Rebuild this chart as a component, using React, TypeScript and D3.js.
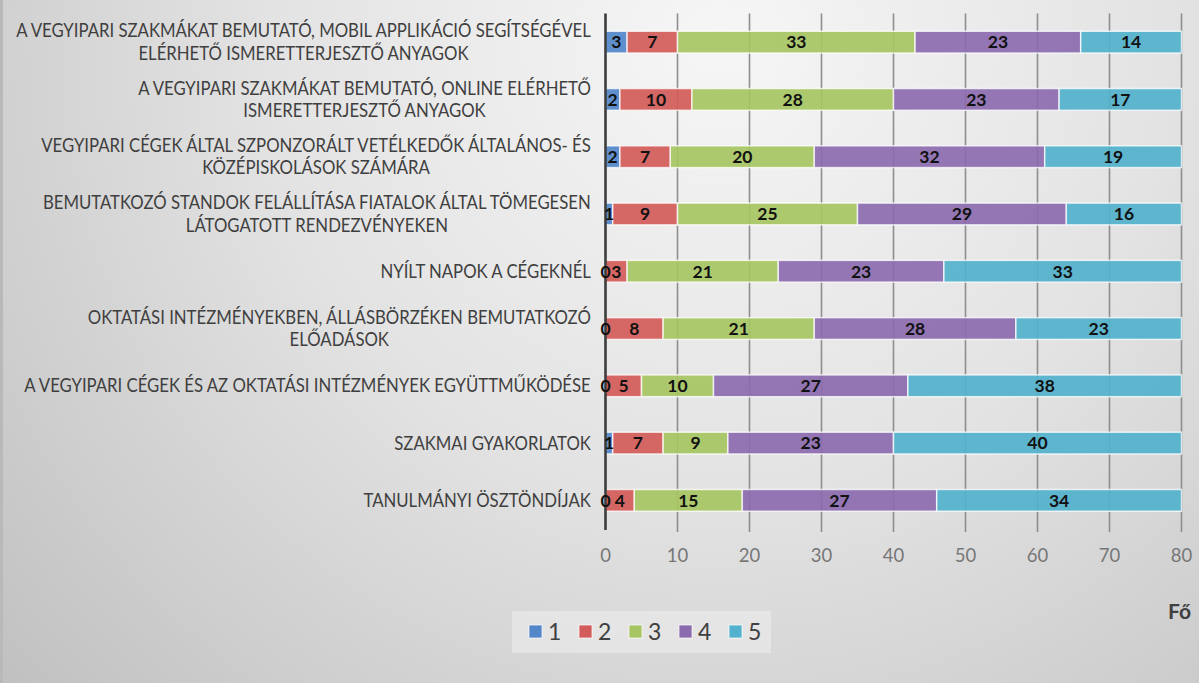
import React, { useEffect, useRef } from "react";
import * as d3 from "d3";

const W = 1199;
const H = 683;

const categories: string[][] = [
  ["A VEGYIPARI SZAKMÁKAT BEMUTATÓ, MOBIL APPLIKÁCIÓ SEGÍTSÉGÉVEL", "ELÉRHETŐ ISMERETTERJESZTŐ ANYAGOK"],
  ["A VEGYIPARI SZAKMÁKAT BEMUTATÓ, ONLINE ELÉRHETŐ", "ISMERETTERJESZTŐ ANYAGOK"],
  ["VEGYIPARI CÉGEK ÁLTAL SZPONZORÁLT VETÉLKEDŐK ÁLTALÁNOS- ÉS", "KÖZÉPISKOLÁSOK SZÁMÁRA"],
  ["BEMUTATKOZÓ STANDOK FELÁLLÍTÁSA FIATALOK ÁLTAL TÖMEGESEN", "LÁTOGATOTT RENDEZVÉNYEKEN"],
  ["NYÍLT NAPOK A CÉGEKNÉL"],
  ["OKTATÁSI INTÉZMÉNYEKBEN, ÁLLÁSBÖRZÉKEN BEMUTATKOZÓ", "ELŐADÁSOK"],
  ["A VEGYIPARI CÉGEK ÉS AZ OKTATÁSI INTÉZMÉNYEK EGYÜTTMŰKÖDÉSE"],
  ["SZAKMAI GYAKORLATOK"],
  ["TANULMÁNYI ÖSZTÖNDÍJAK"],
];

const seriesNames = ["1", "2", "3", "4", "5"];
const s1 = [3, 2, 2, 1, 0, 0, 0, 1, 0];
const s2 = [7, 10, 7, 9, 3, 8, 5, 7, 4];
const s3 = [33, 28, 20, 25, 21, 21, 10, 9, 15];
const s4 = [23, 23, 32, 29, 23, 28, 27, 23, 27];
const s5 = [14, 17, 19, 16, 33, 23, 38, 40, 34];
const seriesValues = [s1, s2, s3, s4, s5];
const seriesColors = ["#5387c9", "#d35b59", "#a7c563", "#8b6bae", "#52b1cc"];
const xTicks = [0, 10, 20, 30, 40, 50, 60, 70, 80];
const xMax = 80;
const axisTitle = "Fő";

export default function App() {
  const ref = useRef<SVGSVGElement | null>(null);

  useEffect(() => {
    const svg = d3.select(ref.current);
    svg.selectAll("*").remove();

    const defs = svg.append("defs");
    const grad = defs
      .append("radialGradient")
      .attr("id", "bg")
      .attr("gradientUnits", "userSpaceOnUse")
      .attr("cx", 720)
      .attr("cy", 40)
      .attr("r", 1000);
    grad.append("stop").attr("offset", 0).attr("stop-color", "#f6f6f6");
    grad.append("stop").attr("offset", 0.45).attr("stop-color", "#e3e3e3");
    grad.append("stop").attr("offset", 1).attr("stop-color", "#bebebe");

    svg.append("rect").attr("width", W).attr("height", H).attr("fill", "url(#bg)");
    svg.append("rect").attr("x", 0).attr("y", 0).attr("width", 3).attr("height", H).attr("fill", "#b9b9b9");

    const x0 = 605.5;
    const x1 = 1181.5;
    const yTop = 13.5;
    const yBot = 529;

    const x = d3.scaleLinear().domain([0, xMax]).range([x0, x1]);
    const idx = categories.map((_, i) => i);
    const y = d3
      .scaleBand<number>()
      .domain(idx)
      .range([yTop, yBot])
      .paddingInner(0.62)
      .paddingOuter(0.31);

    // gridlines
    const grid = svg.append("g");
    grid
      .selectAll("line")
      .data(xTicks.filter((t) => t > 0))
      .enter()
      .append("line")
      .attr("x1", (d) => x(d))
      .attr("x2", (d) => x(d))
      .attr("y1", yTop)
      .attr("y2", yBot + 3)
      .attr("stroke", "#8e8e8e")
      .attr("stroke-width", 1.6);

    // stacked data
    const rows = idx.map((i) => {
      const r: any = { i };
      seriesNames.forEach((s, k) => (r[s] = seriesValues[k][i]));
      return r;
    });
    const stack = d3.stack<any>().keys(seriesNames)(rows);

    const bars = svg.append("g");
    stack.forEach((layer, k) => {
      bars
        .append("g")
        .selectAll("rect")
        .data(layer)
        .enter()
        .append("rect")
        .attr("x", (d) => x(d[0]))
        .attr("y", (d) => y(d.data.i)!)
        .attr("width", (d) => Math.max(0, x(d[1]) - x(d[0])))
        .attr("height", y.bandwidth())
        .attr("fill", seriesColors[k])
        .attr("fill-opacity", 0.92)
        .attr("stroke", "#ffffff")
        .attr("stroke-opacity", 0.75)
        .attr("stroke-width", 1.5);
    });

    // axis line
    svg
      .append("line")
      .attr("x1", x0)
      .attr("x2", x0)
      .attr("y1", yTop)
      .attr("y2", yBot + 1)
      .attr("stroke", "#3d3d3d")
      .attr("stroke-width", 2.6);

    // data labels
    const labels = svg.append("g");
    stack.forEach((layer) => {
      labels
        .append("g")
        .selectAll("text")
        .data(layer)
        .enter()
        .append("text")
        .attr("x", (d) => (x(d[0]) + x(d[1])) / 2)
        .attr("y", (d) => y(d.data.i)! + y.bandwidth() / 2 + 6.3)
        .attr("text-anchor", "middle")
        .attr("font-family", "Lato, 'Open Sans', sans-serif")
        .attr("font-weight", 700)
        .attr("font-size", 17.5)
        .attr("fill", "#111111")
        .text((d) => String(d[1] - d[0]));
    });

    // x tick labels
    svg
      .append("g")
      .selectAll("text")
      .data(xTicks)
      .enter()
      .append("text")
      .attr("x", (d) => x(d))
      .attr("y", 562)
      .attr("text-anchor", "middle")
      .attr("font-family", "Lato, 'Open Sans', sans-serif")
      .attr("font-size", 18.5)
      .attr("fill", "#777777")
      .text((d) => String(d));

    // category labels
    const catG = svg.append("g");
    const fontSize = 18.5;
    const lineH = 22.5;
    const rightEdge = 591;
    const texts: any[] = [];
    categories.forEach((lines, i) => {
      const cy = y(i)! + y.bandwidth() / 2;
      const g = catG.append("g");
      lines.forEach((ln, j) => {
        const t = g
          .append("text")
          .attr("font-family", "Lato, 'Open Sans', sans-serif")
          .attr("font-size", fontSize)
          .attr("fill", "#3f3f3f")
          .attr("text-anchor", "middle")
          .attr("y", cy + (j - (lines.length - 1) / 2) * lineH + 6.5)
          .text(ln);
        texts.push({ t, i, j, g });
      });
    });
    const widest = (catG.select("text").node() as SVGTextElement).getComputedTextLength();
    const target = 575;
    const sx = target / widest;
    categories.forEach((lines, i) => {
      const group = texts.filter((o) => o.i === i);
      const maxW = d3.max(group, (o) => (o.t.node() as SVGTextElement).getComputedTextLength() * sx) || 0;
      const center = rightEdge - maxW / 2;
      group.forEach((o) => {
        o.t.attr("x", 0).attr("transform", `translate(${center},0) scale(${sx},1)`);
      });
    });

    // legend
    const lg = svg.append("g");
    lg.append("rect")
      .attr("x", 512)
      .attr("y", 611)
      .attr("width", 259)
      .attr("height", 42)
      .attr("fill", "#ececec")
      .attr("fill-opacity", 0.6);
    seriesNames.forEach((s, k) => {
      const lx = 529 + k * 50;
      lg.append("rect")
        .attr("x", lx)
        .attr("y", 625)
        .attr("width", 13)
        .attr("height", 13)
        .attr("fill", seriesColors[k])
        .attr("stroke", "#ffffff")
        .attr("stroke-opacity", 0.7)
        .attr("stroke-width", 1);
      lg.append("text")
        .attr("x", lx + 19)
        .attr("y", 640)
        .attr("font-family", "Lato, 'Open Sans', sans-serif")
        .attr("font-size", 23)
        .attr("fill", "#404040")
        .text(s);
    });

    // axis title
    svg
      .append("text")
      .attr("x", 1191)
      .attr("y", 619)
      .attr("text-anchor", "end")
      .attr("font-family", "Lato, 'Open Sans', sans-serif")
      .attr("font-weight", 700)
      .attr("font-size", 21)
      .attr("fill", "#404040")
      .text(axisTitle);
  }, []);

  return (
    <svg
      ref={ref}
      width={W}
      height={H}
      style={{ position: "absolute", left: 0, top: 0, display: "block" }}
    />
  );
}
